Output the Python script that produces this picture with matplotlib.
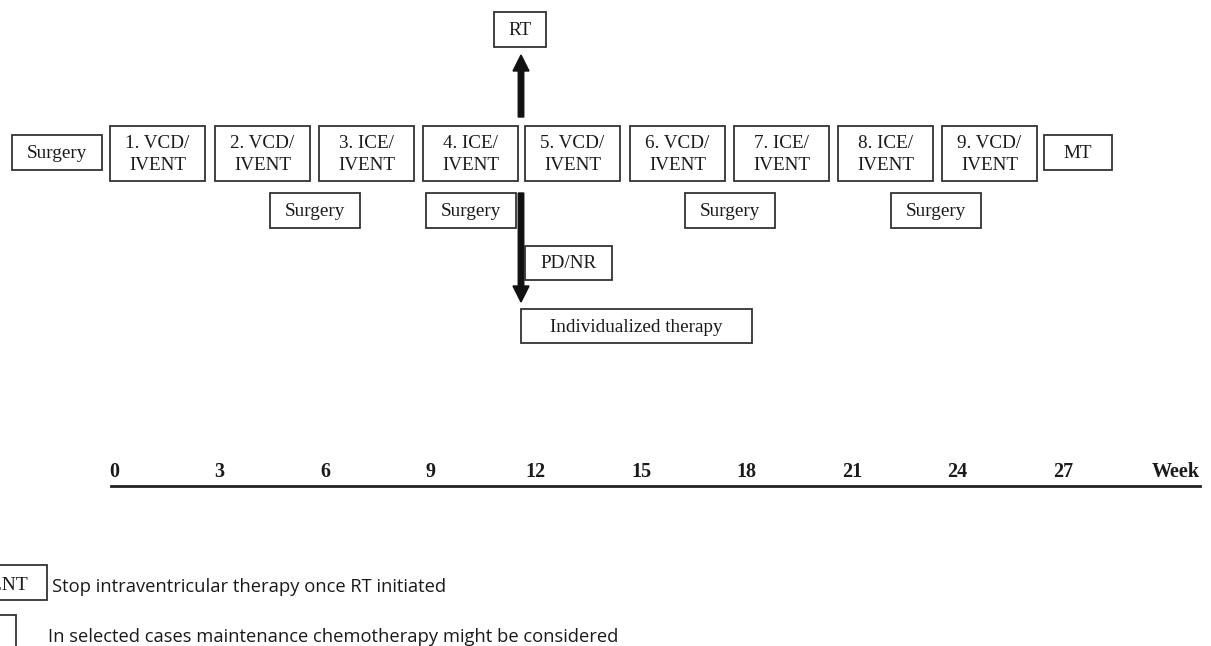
import matplotlib
matplotlib.use("Agg")
import matplotlib.pyplot as plt
from matplotlib.patches import Rectangle, FancyArrow

# --- chart content ---
cycle_labels = ["1. VCD/\nIVENT", "2. VCD/\nIVENT", "3. ICE/\nIVENT", "4. ICE/\nIVENT",
                "5. VCD/\nIVENT", "6. VCD/\nIVENT", "7. ICE/\nIVENT", "8. ICE/\nIVENT",
                "9. VCD/\nIVENT"]
surgery_label = "Surgery"
week_ticks = [0, 3, 6, 9, 12, 15, 18, 21, 24, 27]
legend_texts = ["Stop intraventricular therapy once RT initiated",
                "In selected cases maintenance chemotherapy might be considered"]

# --- layout (pixel coordinates, y downwards) ---
cycle_left = [110, 215, 319, 423, 525, 630, 734, 838, 942]
cycle_w, cycle_top, cycle_bot = 95, 126, 181
lower_surg_left = [270, 426, 685, 891]
lower_w, lower_top, lower_bot = 90, 193, 228
week_x0, week_px = 114, 35.15
axis_y = 486

SERIF = "Liberation Serif"
SANS = "Open Sans"
EDGE = "#333333"
TXT = "#1a1a1a"

fig = plt.figure(figsize=(12.11, 6.46), dpi=100)
ax = fig.add_axes([0, 0, 1, 1])
ax.set_xlim(0, 1211)
ax.set_ylim(646, 0)
ax.axis("off")


def box(x0, y0, x1, y1, label=None, fs=13.8):
    ax.add_patch(Rectangle((x0, y0), x1 - x0, y1 - y0, fill=False,
                           edgecolor=EDGE, linewidth=1.3))
    if label:
        ax.text((x0 + x1) / 2, (y0 + y1) / 2 + 1, label, ha="center", va="center",
                family=SERIF, fontsize=fs, color=TXT, linespacing=1.45)


# first surgery and cycles
box(12, 135, 102, 170, surgery_label)
for lbl, x in zip(cycle_labels, cycle_left):
    box(x, cycle_top, x + cycle_w, cycle_bot, lbl)
box(1044, 135, 1112, 170, "MT")

# lower surgery boxes
for x in lower_surg_left:
    box(x, lower_top, x + lower_w, lower_bot, surgery_label)

# RT branch
box(494, 12, 546, 47, "RT")
ax.add_patch(FancyArrow(521, 117, 0, -62, width=5.5, head_width=16, head_length=16,
                        length_includes_head=True, color="#111111"))

# PD/NR branch
ax.add_patch(FancyArrow(521, 193, 0, 109, width=5.5, head_width=16, head_length=16,
                        length_includes_head=True, color="#111111"))
box(525, 246, 612, 280, "PD/NR")
box(521, 309, 752, 343, "Individualized therapy")

# week axis
ax.plot([111, 1200], [axis_y, axis_y], color="#222222", linewidth=2)
for w in week_ticks:
    ax.text(week_x0 + week_px * w, axis_y - 4, str(w), ha="center", va="bottom",
            family=SERIF, fontsize=14.5, fontweight="bold", color=TXT)
ax.text(1200, axis_y - 4, "Week", ha="right", va="bottom",
        family=SERIF, fontsize=14.5, fontweight="bold", color=TXT)

# legend (left part is cropped in the original figure)
ax.add_patch(Rectangle((-10, 565), 57, 35, fill=False, edgecolor=EDGE,
                       linewidth=1.3, clip_on=False))
ax.text(28, 585, "IVENT", ha="right", va="center", family=SERIF,
        fontsize=14, color=TXT)
ax.text(52, 587, legend_texts[0], ha="left", va="center", family=SANS,
        fontsize=13.2, color=TXT)
ax.add_patch(Rectangle((-10, 615), 26, 40, fill=False, edgecolor=EDGE,
                       linewidth=1.3, clip_on=False))
ax.text(48, 637, legend_texts[1], ha="left", va="center", family=SANS,
        fontsize=13.2, color=TXT)

fig.savefig("out.png", dpi=100)
